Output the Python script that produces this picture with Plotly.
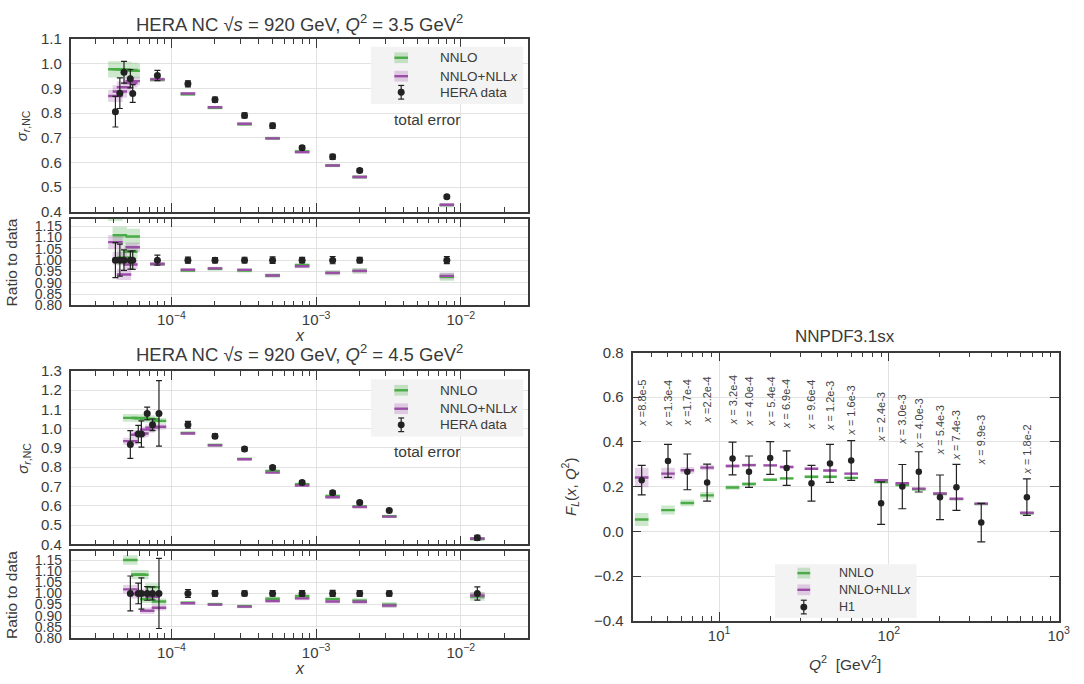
import math
import plotly.graph_objects as go

# ---------------- data: HERA NC 920 GeV, Q2 = 3.5 GeV2 ----------------
x_q35 = [4.1e-5, 4.4e-5, 4.7e-5, 5.2e-5, 5.4e-5, 8.0e-5, 1.3e-4, 2.0e-4, 3.2e-4, 5.0e-4, 8.0e-4, 1.3e-3, 2.0e-3, 8.0e-3]
data_q35 = [0.806, 0.881, 0.966, 0.940, 0.880, 0.953, 0.919, 0.855, 0.791, 0.749, 0.660, 0.623, 0.568, 0.461]
err_q35 = [0.062, 0.062, 0.044, 0.037, 0.036, 0.021, 0.012, 0.010, 0.010, 0.011, 0.008, 0.010, 0.007, 0.007]
nnlo_q35 = [0.978, 0.978, 0.977, 0.975, 0.972, 0.936, 0.877, 0.822, 0.755, 0.698, 0.645, 0.588, 0.541, 0.427]
nnlo_unc_q35 = [0.033, 0.033, 0.033, 0.030, 0.030, 0.008, 0.007, 0.007, 0.007, 0.007, 0.007, 0.007, 0.007, 0.008]
nll_q35 = [0.870, 0.888, 0.905, 0.922, 0.930, 0.937, 0.880, 0.824, 0.757, 0.698, 0.642, 0.588, 0.541, 0.429]
nll_unc_q35 = [0.025, 0.025, 0.024, 0.018, 0.018, 0.008, 0.006, 0.006, 0.006, 0.006, 0.006, 0.006, 0.006, 0.007]

# ---------------- data: HERA NC 920 GeV, Q2 = 4.5 GeV2 ----------------
x_q45 = [5.2e-5, 5.9e-5, 6.2e-5, 6.8e-5, 7.4e-5, 8.2e-5, 1.3e-4, 2.0e-4, 3.2e-4, 5.0e-4, 8.0e-4, 1.3e-3, 2.0e-3, 3.2e-3, 1.3e-2]
data_q45 = [0.918, 0.972, 0.972, 1.079, 1.020, 1.079, 1.020, 0.961, 0.894, 0.799, 0.721, 0.668, 0.617, 0.575, 0.434]
err_q45 = [0.072, 0.045, 0.068, 0.033, 0.030, 0.170, 0.018, 0.012, 0.010, 0.010, 0.009, 0.009, 0.008, 0.007, 0.013]
nnlo_q45 = [1.056, 1.055, 1.054, 1.051, 1.049, 1.040, 0.978, 0.915, 0.843, 0.780, 0.712, 0.651, 0.597, 0.546, 0.428]
nnlo_unc_q45 = [0.020, 0.020, 0.020, 0.018, 0.018, 0.015, 0.007, 0.007, 0.007, 0.007, 0.007, 0.007, 0.007, 0.007, 0.008]
nll_q45 = [0.935, 0.968, 0.975, 0.995, 1.005, 1.010, 0.975, 0.913, 0.841, 0.772, 0.705, 0.644, 0.594, 0.544, 0.430]
nll_unc_q45 = [0.018, 0.018, 0.018, 0.016, 0.016, 0.014, 0.006, 0.006, 0.006, 0.006, 0.006, 0.006, 0.006, 0.006, 0.007]

# ---------------- data: NNPDF3.1sx, F_L vs H1 ----------------
q2_fl = [3.5, 5.0, 6.5, 8.5, 12, 15, 20, 25, 35, 45, 60, 90, 120, 150, 200, 250, 350, 650]
fl_data = [0.229, 0.315, 0.266, 0.218, 0.326, 0.267, 0.328, 0.283, 0.215, 0.304, 0.317, 0.126, 0.200, 0.266, 0.152, 0.197, 0.039, 0.153]
fl_err = [0.066, 0.074, 0.080, 0.083, 0.073, 0.070, 0.073, 0.077, 0.080, 0.085, 0.089, 0.095, 0.099, 0.090, 0.100, 0.103, 0.086, 0.082]
fl_nnlo = [0.053, 0.095, 0.127, 0.161, 0.196, 0.212, 0.231, 0.237, 0.244, 0.244, 0.239, 0.220, 0.207, 0.188, 0.167, 0.144, 0.122, 0.081]
fl_nnlo_unc = [0.029, 0.020, 0.015, 0.015, 0.010, 0.008, 0.006, 0.006, 0.006, 0.006, 0.005, 0.005, 0.005, 0.004, 0.004, 0.004, 0.004, 0.004]
fl_nll = [0.241, 0.258, 0.273, 0.285, 0.292, 0.296, 0.295, 0.288, 0.280, 0.272, 0.258, 0.229, 0.215, 0.191, 0.169, 0.146, 0.124, 0.083]
fl_nll_unc = [0.044, 0.026, 0.015, 0.012, 0.008, 0.007, 0.006, 0.006, 0.006, 0.006, 0.005, 0.005, 0.005, 0.004, 0.004, 0.004, 0.004, 0.004]
fl_xlabels = ["=8.8e-5", "=1.3e-4", "=1.7e-4", "=2.2e-4", "= 3.2e-4", "= 4.0e-4", "= 5.4e-4", "= 6.9e-4", "= 9.6e-4",
              "= 1.2e-3", "= 1.6e-3", "= 2.4e-3", "= 3.0e-3", "= 4.0e-3", "= 5.4e-3", "= 7.4e-3", "= 9.9e-3", "= 1.8e-2"]
fl_label_y = [0.46, 0.46, 0.46, 0.472, 0.464, 0.46, 0.46, 0.447, 0.447, 0.44, 0.42, 0.39, 0.38, 0.36, 0.331, 0.31, 0.288, 0.244]

# ---------------- style ----------------
W, H = 1084, 684
FONT = "Liberation Sans"
TXT = "#3a3a3a"
SPINE = "#3a3a3a"
GRID = "#e2e2e2"
GREEN = "#4aac47"
PURPLE = "#9a4ea6"
GREEN_BAND = "rgba(74,172,71,0.28)"
PURPLE_BAND = "rgba(154,78,166,0.25)"
DATA_C = "#222222"


def X(p):
    return p / W


def Y(p):
    return 1 - p / H


fig = go.Figure()


def theory_shapes(xs, vals, uncs, hw, norm=None):
    bx, by, lx, ly = [], [], [], []
    for i, (x, v, u) in enumerate(zip(xs, vals, uncs)):
        if norm is not None:
            v = v / norm[i]
            u = u / norm[i]
        x0, x1 = x * 10 ** (-hw), x * 10 ** hw
        bx += [x0, x1, x1, x0, x0, None]
        by += [v - u, v - u, v + u, v + u, v - u, None]
        lx += [x0, x1, None]
        ly += [v, v, None]
    return bx, by, lx, ly


def add_panel(xs, data, err, nnlo, nnlo_u, nll, nll_u, xa, ya, hw, ratio=False, msize=7, cap=3):
    norm = data if ratio else None
    g = theory_shapes(xs, nnlo, nnlo_u, hw, norm)
    p = theory_shapes(xs, nll, nll_u, hw, norm)
    for (bx, by, _, _), band in ((g, GREEN_BAND), (p, PURPLE_BAND)):
        fig.add_trace(go.Scatter(x=bx, y=by, mode="lines", fill="toself", fillcolor=band,
                                 line=dict(width=0), xaxis=xa, yaxis=ya, hoverinfo="skip", showlegend=False))
    for (_, _, lx, ly), col in ((g, GREEN), (p, PURPLE)):
        fig.add_trace(go.Scatter(x=lx, y=ly, mode="lines", line=dict(color=col, width=2.4),
                                 xaxis=xa, yaxis=ya, hoverinfo="skip", showlegend=False))
    if ratio:
        yv = [1.0 for _ in data]
        ev = [e / d for e, d in zip(err, data)]
    else:
        yv, ev = data, err
    fig.add_trace(go.Scatter(x=xs, y=yv, mode="markers",
                             marker=dict(color=DATA_C, size=msize),
                             error_y=dict(type="data", array=ev, color=DATA_C, thickness=1.2, width=cap),
                             xaxis=xa, yaxis=ya, showlegend=False))


add_panel(x_q35, data_q35, err_q35, nnlo_q35, nnlo_unc_q35, nll_q35, nll_unc_q35, "x", "y", 0.05)
add_panel(x_q35, data_q35, err_q35, nnlo_q35, nnlo_unc_q35, nll_q35, nll_unc_q35, "x2", "y2", 0.05, ratio=True)
add_panel(x_q45, data_q45, err_q45, nnlo_q45, nnlo_unc_q45, nll_q45, nll_unc_q45, "x3", "y3", 0.05)
add_panel(x_q45, data_q45, err_q45, nnlo_q45, nnlo_unc_q45, nll_q45, nll_unc_q45, "x4", "y4", 0.05, ratio=True)
add_panel(q2_fl, fl_data, fl_err, fl_nnlo, fl_nnlo_unc, fl_nll, fl_nll_unc, "x5", "y5", 0.04, msize=6.5, cap=4)

# ---------------- axes ----------------
tickfont = dict(family=FONT, size=15, color=TXT)
ratiofont = dict(family=FONT, size=14, color=TXT)
left_minor = [m * 10 ** e for e in (-5, -4, -3, -2) for m in range(2, 10)]
right_minor = [m * 10 ** e for e in (0, 1, 2) for m in range(2, 10)]
left_major = [1e-4, 1e-3, 1e-2]
left_major_txt = ["10<sup>\u22124</sup>", "10<sup>\u22123</sup>", "10<sup>\u22122</sup>"]


def xaxis_left(anchor, show):
    return dict(domain=[X(71.3), X(533.7)], anchor=anchor, type="log", range=[-4.697, -1.534],
                showline=True, linecolor=SPINE, linewidth=1.6, mirror="allticks",
                ticks="inside", ticklen=9, tickwidth=1.2, tickcolor=SPINE,
                tickvals=left_major, ticktext=left_major_txt, showticklabels=show,
                tickfont=tickfont, showgrid=True, gridcolor=GRID, gridwidth=1, zeroline=False,
                minor=dict(ticks="inside", ticklen=5, tickwidth=1, tickcolor=SPINE,
                           tickmode="array", tickvals=left_minor, showgrid=False))


def yaxis_left(anchor, dom, rng, dt, fmt, font):
    return dict(domain=[Y(dom[1]), Y(dom[0])], anchor=anchor, range=rng, dtick=dt, tick0=0.4,
                tickformat=fmt, showline=True, linecolor=SPINE, linewidth=1.6, mirror=True,
                ticks="", tickfont=font, showgrid=True, gridcolor=GRID, gridwidth=1,
                zeroline=False, ticklabelstandoff=4)


fig.update_layout(
    width=W, height=H, margin=dict(l=0, r=0, t=0, b=0),
    paper_bgcolor="white", plot_bgcolor="white", showlegend=False,
    xaxis=xaxis_left("y", False),
    yaxis=yaxis_left("x", (31, 208), [0.4, 1.1], 0.1, ".1f", tickfont),
    xaxis2=xaxis_left("y2", True),
    yaxis2=yaxis_left("x2", (215, 304), [0.8, 1.183], 0.05, ".2f", ratiofont),
    xaxis3=xaxis_left("y3", False),
    yaxis3=yaxis_left("x3", (371, 549), [0.4, 1.3], 0.1, ".1f", tickfont),
    xaxis4=xaxis_left("y4", True),
    yaxis4=yaxis_left("x4", (556, 645), [0.8, 1.19], 0.05, ".2f", ratiofont),
    xaxis5=dict(domain=[X(639), X(1069.5)], anchor="y5", type="log", range=[0.49, 3.0],
                showline=True, linecolor=SPINE, linewidth=1.6, mirror="allticks",
                ticks="inside", ticklen=9, tickwidth=1.2, tickcolor=SPINE,
                tickvals=[10, 100, 1000],
                ticktext=["10<sup>1</sup>", "10<sup>2</sup>", "10<sup>3</sup>"],
                tickfont=tickfont, showgrid=True, gridcolor=GRID, zeroline=False,
                minor=dict(ticks="inside", ticklen=5, tickwidth=1, tickcolor=SPINE,
                           tickmode="array", tickvals=right_minor, showgrid=False)),
    yaxis5=dict(domain=[Y(627.3), Y(352.3)], anchor="x5", range=[-0.4, 0.8], dtick=0.2, tick0=-0.4,
                tickformat=".1f", showline=True, linecolor=SPINE, linewidth=1.6, mirror="allticks",
                ticks="inside", ticklen=9, tickwidth=1.2, tickcolor=SPINE,
                tickfont=tickfont, showgrid=True, gridcolor=GRID, zeroline=False,
                ticklabelstandoff=4),
)


# ---------------- text ----------------
def txt(x, y, s, size, angle=0, xanchor="center", yanchor="middle", color=TXT):
    fig.add_annotation(x=X(x), y=Y(y), xref="paper", yref="paper", text=s, showarrow=False,
                       font=dict(family=FONT, size=size, color=color), textangle=angle,
                       xanchor=xanchor, yanchor=yanchor)


def title_hera(q2):
    return ("HERA NC \u221a<i>s</i> = 920 GeV, <i>Q</i><sup>2</sup> = " + q2 +
            " GeV<sup>2</sup>")


txt(302.5, 14, title_hera("3.5"), 18.5)
txt(302.5, 353, title_hera("4.5"), 18.5)
txt(854, 336, "NNPDF3.1sx", 17)

for dy in (0, 341):
    txt(23, 119.5 + dy, "<i>\u03c3</i><sub><i>r</i>,NC</sub>", 15, angle=-90)
    txt(11.5, 259.5 + dy, "Ratio to data", 15.5, angle=-90)
    txt(303, 335 + dy, "<i>x</i>", 16)
    txt(431, 113 + dy, "total error", 15.5)

txt(576, 490, "<i>F<sub>L</sub></i>(<i>x</i>, <i>Q</i><sup>2</sup>)", 15, angle=-90)
txt(854, 671, "<i>Q</i><sup>2</sup>  [GeV<sup>2</sup>]", 15.5)

for q, lab, ly in zip(q2_fl, fl_xlabels, fl_label_y):
    fig.add_annotation(x=math.log10(q), y=ly, xref="x5", yref="y5",
                       text="<i>x</i> " + lab, showarrow=False, textangle=-90,
                       font=dict(family=FONT, size=11, color="#444444"),
                       xanchor="center", yanchor="bottom")


# ---------------- hand-drawn legends ----------------
def shape_rect(x0, y0, x1, y1, fill):
    fig.add_shape(type="rect", xref="paper", yref="paper", x0=X(x0), x1=X(x1), y0=Y(y1), y1=Y(y0),
                  fillcolor=fill, line=dict(width=0), layer="above")


def shape_line(x0, y0, x1, y1, col, w):
    fig.add_shape(type="line", xref="paper", yref="paper", x0=X(x0), x1=X(x1), y0=Y(y0), y1=Y(y1),
                  line=dict(color=col, width=w), layer="above")


def legend(box, rows, px0, px1, text_x, labels, size):
    shape_rect(box[0], box[1], box[2], box[3], "#f3f3f3")
    for r, band, col in ((rows[0], GREEN_BAND, GREEN), (rows[1], PURPLE_BAND, PURPLE)):
        shape_rect(px0, r - 5.5, px1, r + 5.5, band)
        shape_line(px0, r, px1, r, col, 2.4)
    cx = (px0 + px1) / 2
    r = rows[2]
    shape_line(cx, r - 7, cx, r + 7, DATA_C, 1.2)
    shape_line(cx - 3, r - 7, cx + 3, r - 7, DATA_C, 1.2)
    shape_line(cx - 3, r + 7, cx + 3, r + 7, DATA_C, 1.2)
    fig.add_shape(type="circle", xref="paper", yref="paper", x0=X(cx - 3.5), x1=X(cx + 3.5),
                  y0=Y(r + 3.5), y1=Y(r - 3.5), fillcolor=DATA_C, line=dict(width=0), layer="above")
    for rr, lab in zip(rows, labels):
        txt(text_x, rr, lab, size, xanchor="left")


nll_label = "NNLO+NLL<i>x</i>"
legend((374.7, 38.6, 528.6, 97.5), (50, 68.9, 85.4), 398.4, 412.2, 442.5,
       ["NNLO", nll_label, "HERA data"], 13.5)
legend((374.7, 379.6, 528.6, 438.5), (391, 409.9, 426.4), 398.4, 412.2, 442.5,
       ["NNLO", nll_label, "HERA data"], 13.5)
legend((783, 569.5, 926, 624.4), (578.5, 595.6, 613.3), 805.6, 818.5, 846,
       ["NNLO", nll_label, "H1"], 12.5)

fig.write_html("out.html")
